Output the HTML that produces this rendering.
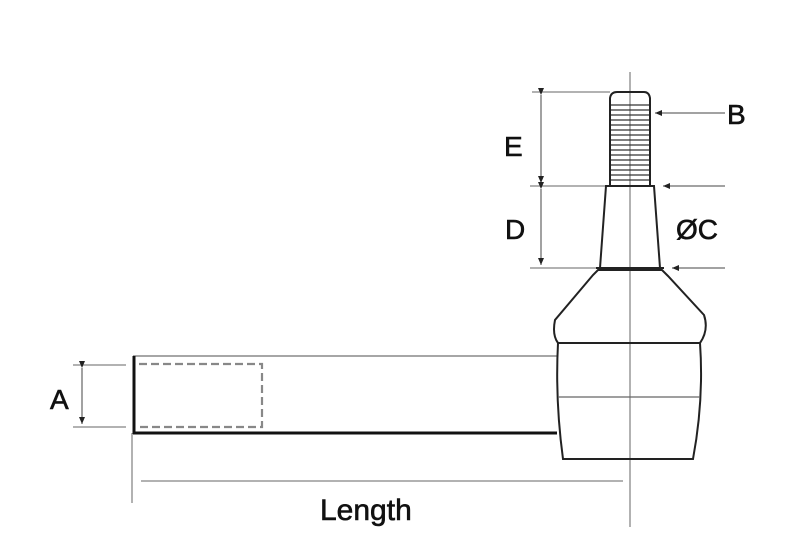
<!DOCTYPE html>
<html><head><style>html,body{margin:0;padding:0;background:#fff}svg{display:block}</style></head>
<body>
<svg width="801" height="555" viewBox="0 0 801 555" xmlns="http://www.w3.org/2000/svg" font-family="Liberation Sans, Arial, sans-serif">
<defs>
<marker id="ar" markerWidth="8" markerHeight="8" refX="7" refY="4" orient="auto" markerUnits="userSpaceOnUse"><path d="M0,1 L7,4 L0,7 Z" fill="#222"/></marker>
</defs>
<g stroke="#999" stroke-width="1.5" fill="none">
<line x1="630" y1="72" x2="630" y2="527"/>
<line x1="132" y1="433" x2="132" y2="503"/>
<line x1="141" y1="481" x2="623" y2="481"/>
<line x1="73" y1="365" x2="126" y2="365"/>
<line x1="73" y1="427" x2="126" y2="427"/>
<line x1="532" y1="92" x2="610" y2="92"/>
<line x1="530" y1="186" x2="606" y2="186"/>
<line x1="530" y1="268" x2="598" y2="268"/>
</g>
<g stroke="#444" stroke-width="1" fill="none">
<line x1="82" y1="368" x2="82" y2="424" marker-start="url(#ar)" marker-end="url(#ar)"/>
<line x1="541" y1="95" x2="541" y2="183" marker-start="url(#ar)" marker-end="url(#ar)"/>
<line x1="541" y1="189" x2="541" y2="265" marker-start="url(#ar)" marker-end="url(#ar)"/>
<line x1="725" y1="113" x2="655" y2="113" marker-end="url(#ar)"/>
<line x1="725" y1="186" x2="663" y2="186" marker-end="url(#ar)"/>
<line x1="725" y1="268" x2="672" y2="268" marker-end="url(#ar)"/>
</g>
<line x1="133" y1="356" x2="557" y2="356" stroke="#888" stroke-width="1.5"/>
<line x1="133" y1="433" x2="557" y2="433" stroke="#111" stroke-width="3"/>
<line x1="134" y1="356" x2="134" y2="434" stroke="#111" stroke-width="3"/>
<path d="M139,364 H262 V427 H139" fill="none" stroke="#888" stroke-width="2.2" stroke-dasharray="8,4"/>
<g stroke="#222" stroke-width="2" fill="none">
<path d="M558,343 Q552,335 555,320 L593,275 L598,270 L662,270 L668,276 L704,315 Q709,330 700,343"/>
<line x1="558" y1="343" x2="700" y2="343"/>
<path d="M558,343 Q555,400 563,459 L693,459 Q704,400 700,343"/>
<line x1="558" y1="397" x2="700" y2="397" stroke="#666" stroke-width="1.2"/>
<path d="M600,268 L606,186 L654,186 L660,268"/>
<line x1="596" y1="268" x2="664" y2="268"/>
<path d="M610,186 L610,98 Q611,92 617,92 L644,92 Q649,92 650,98 L650,186"/>
</g>
<g stroke="#333" stroke-width="1.2">
<line x1="611" y1="105" x2="649" y2="105"/><line x1="611" y1="110" x2="649" y2="110"/>
<line x1="611" y1="115" x2="649" y2="115"/><line x1="611" y1="120" x2="649" y2="120"/>
<line x1="611" y1="125" x2="649" y2="125"/><line x1="611" y1="130" x2="649" y2="130"/>
<line x1="611" y1="135" x2="649" y2="135"/><line x1="611" y1="140" x2="649" y2="140"/>
<line x1="611" y1="145" x2="649" y2="145"/><line x1="611" y1="150" x2="649" y2="150"/>
<line x1="611" y1="155" x2="649" y2="155"/><line x1="611" y1="160" x2="649" y2="160"/>
<line x1="611" y1="165" x2="649" y2="165"/><line x1="611" y1="170" x2="649" y2="170"/>
<line x1="611" y1="175" x2="649" y2="175"/><line x1="611" y1="180" x2="649" y2="180"/>
</g>
<g fill="#111" font-size="28" stroke="#111" stroke-width="0.6">
<text x="50" y="409">A</text>
<text x="504" y="156">E</text>
<text x="505" y="239">D</text>
<text x="676" y="239">ØC</text>
<text x="727" y="124">B</text>
<text x="320" y="520" font-size="30">Length</text>
</g>
</svg>
</body></html>
